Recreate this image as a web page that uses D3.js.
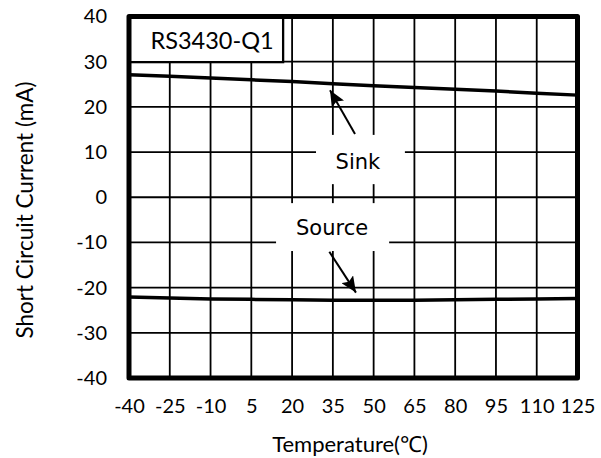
<!DOCTYPE html>
<html>
<head>
<meta charset="utf-8">
<script src="https://cdn.jsdelivr.net/npm/d3@7"></script>
<style>
  html, body { margin: 0; padding: 0; background: #fff; }
  svg { display: block; }
</style>
</head>
<body>
<svg id="chart" width="601" height="458"></svg>
<script>
// ---- data ----
const temperatures = [-40, -25, -10, 5, 20, 35, 50, 65, 80, 95, 110, 125];
const sinkCurrent   = [27.1, 26.8, 26.4, 26.0, 25.6, 25.1, 24.7, 24.3, 23.9, 23.5, 23.0, 22.6];
const sourceCurrent = [-22.1, -22.3, -22.5, -22.6, -22.7, -22.8, -22.8, -22.8, -22.7, -22.6, -22.5, -22.4];
const xTickValues = [-40, -25, -10, 5, 20, 35, 50, 65, 80, 95, 110, 125];
const yTickValues = [-40, -30, -20, -10, 0, 10, 20, 30, 40];
const chartTitle = "RS3430-Q1";
const xAxisTitle = "Temperature(\u2103)";
const yAxisTitle = "Short Circuit Current (mA)";
const seriesLabels = ["Sink", "Source"];

// ---- layout (kept separate from data) ----
const plot = { left: 129, right: 577.5, top: 16.5, bottom: 378 };
const annot = {
  titleBox: { x0: -40, x1: 16.7, y0: 40, y1: 29.9 },
  labels: [
    { text: seriesLabels[0], box: { x0: 28.8, x1: 61.5, y0: 13.8, y1: 2.9 }, tx: 44.2, ty: 7.8,
      arrow: { x1: 43.15, y1: 14.0, x2: 33.95, y2: 23.7 } },
    { text: seriesLabels[1], box: { x0: 14.1, x1: 55.7, y0: -1.3, y1: -11.9 }, tx: 34.7, ty: -6.8,
      arrow: { x1: 33.7, y1: -12.05, x2: 43.5, y2: -21.1 } }
  ]
};

const svg = d3.select("#chart");
const x = d3.scaleLinear().domain([-40, 125]).range([plot.left, plot.right]);
const y = d3.scaleLinear().domain([-40, 40]).range([plot.bottom, plot.top]);

// grid
const grid = svg.append("g").attr("stroke", "#000").attr("stroke-width", 1.8);
grid.selectAll("line.v").data(xTickValues).join("line")
  .attr("x1", d => x(d)).attr("x2", d => x(d))
  .attr("y1", plot.top).attr("y2", plot.bottom);
grid.selectAll("line.h").data(yTickValues).join("line")
  .attr("y1", d => y(d)).attr("y2", d => y(d))
  .attr("x1", plot.left).attr("x2", plot.right);

// data lines
const line = d3.line().x((d, i) => x(temperatures[i])).y(d => y(d));
[sinkCurrent, sourceCurrent].forEach(s => {
  svg.append("path").datum(s).attr("d", line)
    .attr("fill", "none").attr("stroke", "#000").attr("stroke-width", 3.5);
});

// label boxes (white, cover grid)
annot.labels.forEach(l => {
  svg.append("rect")
    .attr("x", x(l.box.x0)).attr("y", y(l.box.y0))
    .attr("width", x(l.box.x1) - x(l.box.x0))
    .attr("height", y(l.box.y1) - y(l.box.y0))
    .attr("fill", "#fff");
});

// arrow marker
svg.append("defs").append("marker")
  .attr("id", "ah").attr("markerUnits", "userSpaceOnUse")
  .attr("markerWidth", 16).attr("markerHeight", 14)
  .attr("viewBox", "0 0 16 14").attr("refX", 16).attr("refY", 7)
  .attr("orient", "auto")
  .append("path").attr("d", "M0,0 L16,7 L0,14 L3,7 Z").attr("fill", "#000");

annot.labels.forEach(l => {
  svg.append("line")
    .attr("x1", x(l.arrow.x1)).attr("y1", y(l.arrow.y1))
    .attr("x2", x(l.arrow.x2)).attr("y2", y(l.arrow.y2))
    .attr("stroke", "#000").attr("stroke-width", 2)
    .attr("marker-end", "url(#ah)");
  svg.append("text")
    .attr("x", x(l.tx)).attr("y", y(l.ty))
    .attr("text-anchor", "middle").attr("dominant-baseline", "central")
    .attr("font-family", "DejaVu Sans").attr("font-size", 21)
    .attr("fill", "#000").text(l.text);
});

// title box
const tb = annot.titleBox;
svg.append("rect")
  .attr("x", x(tb.x0)).attr("y", y(tb.y0))
  .attr("width", x(tb.x1) - x(tb.x0)).attr("height", y(tb.y1) - y(tb.y0))
  .attr("fill", "#fff").attr("stroke", "#000").attr("stroke-width", 2.3);
svg.append("text")
  .attr("x", 212).attr("y", (y(tb.y0) + y(tb.y1)) / 2 + 1)
  .attr("text-anchor", "middle").attr("dominant-baseline", "central")
  .attr("font-family", "Lato").attr("font-size", 23.5)
  .attr("fill", "#000").text(chartTitle);

// frame
svg.append("rect")
  .attr("x", plot.left).attr("y", plot.top)
  .attr("width", plot.right - plot.left).attr("height", plot.bottom - plot.top)
  .attr("fill", "none").attr("stroke", "#000").attr("stroke-width", 5)
  .attr("stroke-linejoin", "round");

// axes
const xAxis = d3.axisBottom(x).tickValues(xTickValues).tickSize(0).tickPadding(21)
  .tickFormat(d3.format("d"));
const gx = svg.append("g").attr("transform", `translate(0,${plot.bottom})`).call(xAxis);
const yAxis = d3.axisLeft(y).tickValues(yTickValues).tickSize(0).tickPadding(22)
  .tickFormat(d3.format("d"));
const gy = svg.append("g").attr("transform", `translate(${plot.left},0)`).call(yAxis);
[gx, gy].forEach(g => {
  g.select(".domain").remove();
  g.selectAll("text").attr("font-family", "Lato").attr("font-size", 20).attr("fill", "#000");
});
gx.selectAll("text").text(d => String(d).replace("\u2212", "-"));
gy.selectAll("text").text(d => String(d).replace("\u2212", "-"));

svg.append("text")
  .attr("x", 350).attr("y", 443)
  .attr("text-anchor", "middle").attr("dominant-baseline", "central")
  .attr("font-family", "Lato").attr("font-size", 22).attr("fill", "#000")
  .text(xAxisTitle);
svg.append("text")
  .attr("transform", `translate(24,210) rotate(-90)`)
  .attr("text-anchor", "middle").attr("dominant-baseline", "central")
  .attr("font-family", "Lato").attr("font-size", 22.5).attr("fill", "#000")
  .text(yAxisTitle);
</script>
</body>
</html>
